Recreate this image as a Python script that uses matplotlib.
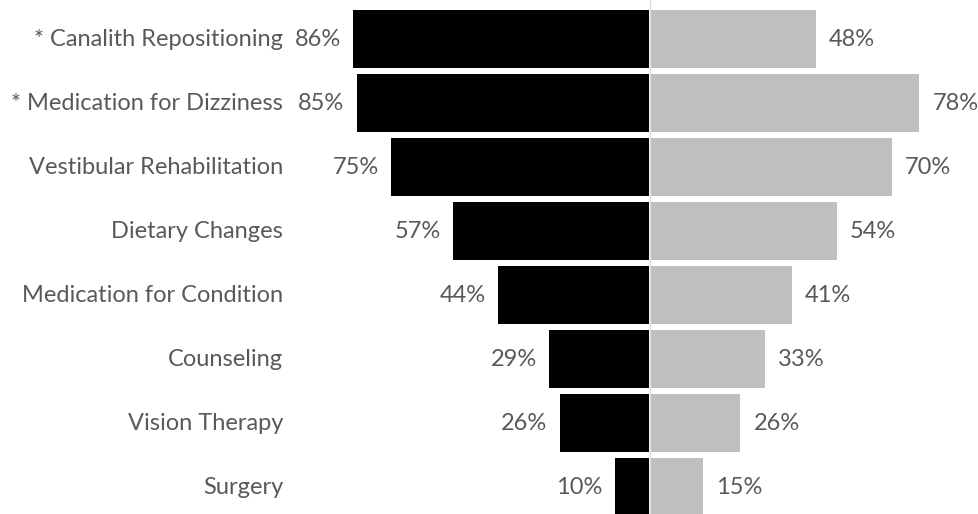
import matplotlib
matplotlib.use("Agg")
import matplotlib.pyplot as plt

categories = ["* Canalith Repositioning", "* Medication for Dizziness", "Vestibular Rehabilitation",
              "Dietary Changes", "Medication for Condition", "Counseling", "Vision Therapy", "Surgery"]
left_vals = [86, 85, 75, 57, 44, 29, 26, 10]
right_vals = [48, 78, 70, 54, 41, 33, 26, 15]

W, H = 979, 514
fig = plt.figure(figsize=(W / 100, H / 100), dpi=100)
ax = fig.add_axes([0, 0, 1, 1])
ppu = 3.44
cx = 650
ax.set_xlim(-cx / ppu, (W - cx) / ppu)
ax.set_ylim((H - 39) / 64, -39 / 64)
ax.axis("off")

txt = "#595959"
font = "Lato"
fs = 17
ys = list(range(len(categories)))
ax.barh(ys, [-v for v in left_vals], left=-0.3, height=0.9, color="black")
ax.barh(ys, right_vals, left=0.3, height=0.9, color="#BFBFBF")
ax.axvline(0, color="#D9D9D9", lw=1)

for y, c, lv, rv in zip(ys, categories, left_vals, right_vals):
    ax.text((283 - cx) / ppu, y, c, ha="right", va="center", fontsize=fs, color=txt, family=font)
    ax.text(-lv - 0.3 - 12 / ppu, y, f"{lv}%", ha="right", va="center", fontsize=fs, color=txt, family=font)
    ax.text(rv + 0.3 + 13 / ppu, y, f"{rv}%", ha="left", va="center", fontsize=fs, color=txt, family=font)

fig.savefig("out.png", dpi=100)
